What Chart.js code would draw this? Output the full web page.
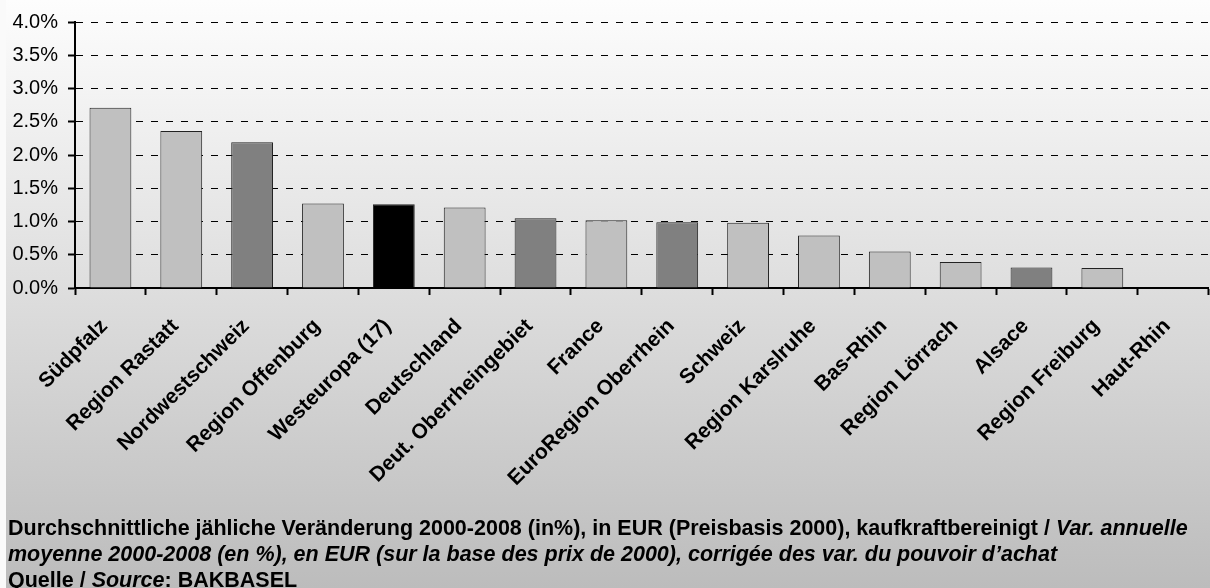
<!DOCTYPE html>
<html>
<head>
<meta charset="utf-8">
<script src="https://cdn.jsdelivr.net/npm/chart.js@4"></script>
<style>
  html, body { margin: 0; padding: 0; }
  body { width: 1210px; height: 588px; position: relative; overflow: hidden; background: #fafafa; }
  #bg { position: absolute; left: 6px; top: 0; width: 1204px; height: 588px;
        background: linear-gradient(to bottom, #fdfdfd 0%, #dedede 49%, #bcbcbc 100%); }
  #wrap { position: absolute; left: 0; top: 0; width: 1210px; height: 588px; }
  #note { position: absolute; left: 8px; top: 515px; font-family: "Liberation Sans", Arial, sans-serif;
          font-weight: bold; font-size: 21.5px; line-height: 26px; color: #000; white-space: nowrap; }
  #note i { font-style: italic; }
</style>
</head>
<body>
<div id="bg"></div>
<div id="wrap"><canvas id="chart" width="1210" height="588"></canvas></div>
<div id="note">
  Durchschnittliche jähliche Veränderung 2000-2008 (in%), in EUR (Preisbasis 2000), kaufkraftbereinigt / <i>Var. annuelle</i><br>
  <i>moyenne 2000-2008 (en %), en EUR (sur la base des prix de 2000), corrigée des var. du pouvoir d’achat</i><br>
  Quelle / <i>Source</i>: BAKBASEL
</div>
<script>
const regions = [
  'Südpfalz', 'Region Rastatt', 'Nordwestschweiz', 'Region Offenburg', 'Westeuropa (17)',
  'Deutschland', 'Deut. Oberrheingebiet', 'France', 'EuroRegion Oberrhein', 'Schweiz',
  'Region Karslruhe', 'Bas-Rhin', 'Region Lörrach', 'Alsace', 'Region Freiburg', 'Haut-Rhin'
];
const growth = [2.71, 2.36, 2.19, 1.27, 1.26, 1.21, 1.05, 1.02, 0.99, 0.98, 0.79, 0.55, 0.39, 0.31, 0.30, 0];
const yTicks = [0, 0.5, 1, 1.5, 2, 2.5, 3, 3.5, 4];

// light = region, dark = country/large area, black = Westeuropa
const barColors = [
  '#c0c0c0', '#c0c0c0', '#808080', '#c0c0c0', '#000000',
  '#c0c0c0', '#808080', '#c0c0c0', '#808080', '#c0c0c0',
  '#c0c0c0', '#c0c0c0', '#c0c0c0', '#808080', '#c0c0c0', '#c0c0c0'
];

const ctx = document.getElementById('chart').getContext('2d');
new Chart(ctx, {
  type: 'bar',
  data: {
    labels: regions,
    datasets: [{
      data: growth,
      backgroundColor: barColors,
      borderColor: '#222',
      borderWidth: 1,
      categoryPercentage: 1,
      barPercentage: 0.59
    }]
  },
  options: {
    responsive: false,
    animation: false,
    layout: { padding: { top: 21, left: 0, right: 0, bottom: 0 } },
    plugins: { legend: { display: false }, tooltip: { enabled: false } },
    scales: {
      x: {
        offset: true,
        grid: { display: true, drawOnChartArea: false, drawTicks: true, tickLength: 7,
                tickWidth: 2, tickColor: '#000', offset: true },
        border: { display: true, color: '#000', width: 2 },
        ticks: {
          autoSkip: false, minRotation: 45, maxRotation: 45, padding: 19, labelOffset: -6,
          color: '#000', font: { family: '"Liberation Sans", Arial, sans-serif', size: 21, weight: 'bold' }
        },
        afterFit: s => { s.height = 300; }
      },
      y: {
        min: 0, max: 4,
        afterBuildTicks: s => { s.ticks = yTicks.map(v => ({ value: v })); },
        grid: { color: '#000', lineWidth: 1, drawTicks: true, tickLength: 7, tickWidth: 2,
                tickColor: '#000', tickBorderDash: [] },
        border: { display: true, color: '#000', width: 2, dash: [7, 8] },
        ticks: {
          padding: 10, color: '#000',
          font: { family: '"Liberation Sans", Arial, sans-serif', size: 20 },
          callback: v => v.toFixed(1) + '%'
        },
        afterFit: s => { s.width = 75; }
      }
    }
  }
});
</script>
</body>
</html>
